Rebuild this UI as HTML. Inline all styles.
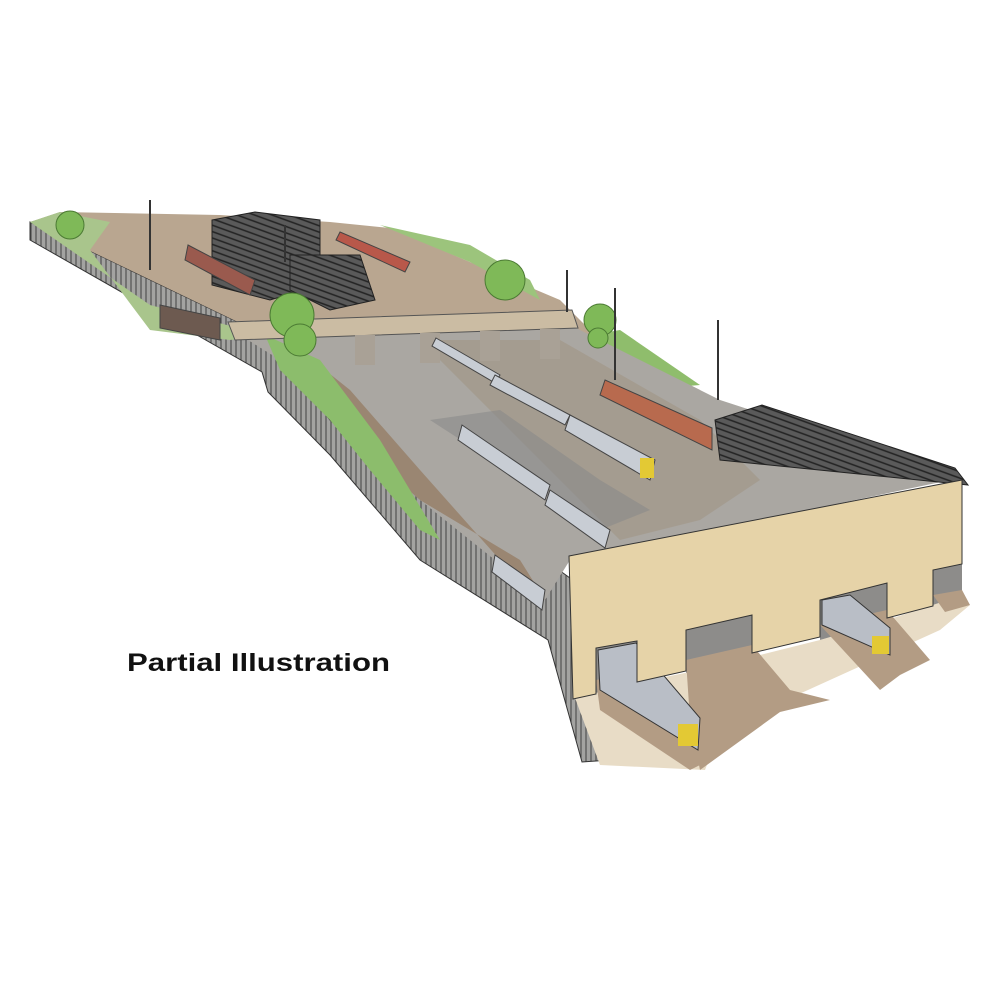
<!DOCTYPE html>
<html><head><meta charset="utf-8"><style>
html,body{margin:0;padding:0;background:#fff;}
svg{display:block}
</style></head><body>
<svg width="1000" height="1000" viewBox="0 0 1000 1000" xmlns="http://www.w3.org/2000/svg">
<defs>
<pattern id="vh" width="5" height="10" patternUnits="userSpaceOnUse">
<rect width="5" height="10" fill="#a3a3a1"/><line x1="1" y1="0" x2="1" y2="10" stroke="#4a4a4a" stroke-width="1.1"/>
</pattern>
<pattern id="rf" width="6" height="6" patternUnits="userSpaceOnUse" patternTransform="rotate(20)">
<rect width="6" height="6" fill="#5a5a5a"/><line x1="0" y1="1" x2="6" y2="1" stroke="#222" stroke-width="1.5"/>
</pattern>
</defs>
<!-- side wall -->
<polygon points="30,222 265,335 330,420 420,495 545,560 570,578 610,760 582,762 548,640 420,560 330,455 268,392 262,372 30,240" fill="url(#vh)" stroke="#333" stroke-width="1"/>
<!-- upper terrain -->
<polygon points="30,222 60,212 220,215 330,222 390,228 470,262 560,300 600,340 700,390 720,420 600,420 420,330 300,330 265,335" fill="#b9a690"/>
<polygon points="30,222 60,212 110,222 90,250 150,330 230,340 265,335 150,305" fill="#a9c58c"/>
<polygon points="380,225 470,262 540,300 530,280 470,245" fill="#9cc47c"/>
<polygon points="560,340 620,330 700,385 640,390" fill="#8fbd6c"/>
<!-- track area -->
<polygon points="240,335 560,320 720,400 960,478 570,560 545,600 420,500 340,430 280,360" fill="#aaa7a2"/>
<polygon points="300,350 340,430 420,500 520,560 545,600 500,560 420,470 350,390" fill="#9a8672"/>
<polygon points="420,340 560,340 700,420 760,480 700,520 620,540" fill="#a09484" opacity=".6"/>
<polygon points="430,420 500,410 600,480 650,510 600,530" fill="#8a8a8a" opacity=".6"/>
<!-- green embankment -->
<polygon points="265,335 320,360 380,440 440,540 420,530 370,470 330,420 280,370" fill="#8cbd6c"/>
<!-- bridge -->
<polygon points="228,322 572,310 578,328 235,340" fill="#cbbca3" stroke="#555"/>
<rect x="355" y="335" width="20" height="30" fill="#a9a196"/>
<rect x="420" y="333" width="20" height="30" fill="#a9a196"/>
<rect x="480" y="331" width="20" height="30" fill="#a9a196"/>
<rect x="540" y="329" width="20" height="30" fill="#a9a196"/>
<!-- sheds -->
<polygon points="212,220 255,212 320,220 320,285 270,300 212,285" fill="url(#rf)" stroke="#222"/>
<polygon points="290,255 360,255 375,300 330,310 290,290" fill="url(#rf)" stroke="#222"/>
<!-- roof right -->
<polygon points="715,420 762,405 955,468 968,485 720,460" fill="url(#rf)" stroke="#222"/>
<!-- trains -->
<g stroke="#444" stroke-width="1">
<polygon points="436,338 500,375 495,383 432,346" fill="#c8cdd4"/>
<polygon points="495,375 570,415 565,425 490,385" fill="#c8cdd4"/>
<polygon points="570,415 655,460 650,480 565,430" fill="#c8cdd4"/>
<polygon points="462,425 550,485 545,500 458,440" fill="#c8cdd4"/>
<polygon points="550,490 610,530 605,548 545,505" fill="#c8cdd4"/>
<polygon points="495,555 545,590 542,610 492,572" fill="#c8cdd4"/>
<polygon points="605,380 712,428 712,450 600,395" fill="#b86a4e"/>
<polygon points="340,232 410,262 405,272 336,240" fill="#b8584a"/>
<polygon points="160,305 220,318 220,340 160,328" fill="#6d5a50"/>
<polygon points="188,245 255,280 250,295 185,260" fill="#9a5a4e"/>
</g>
<rect x="640" y="458" width="14" height="20" fill="#e3c934"/>
<!-- opening interiors -->
<g fill="#8d8c8a">
<polygon points="596,648 637,641 637,690 596,700"/>
<polygon points="686,630 752,615 752,660 686,675"/>
<polygon points="820,600 887,583 887,625 820,640"/>
<polygon points="933,570 962,564 962,600 933,606"/>
</g>
<!-- floor below building -->
<polygon points="575,698 640,682 700,670 760,655 820,640 887,620 960,596 970,605 940,630 830,680 720,730 705,770 600,765" fill="#e8dcc6"/>
<!-- fanned tracks -->
<polygon points="686,660 752,645 790,690 830,700 780,712 700,770 690,720" fill="#b39c84"/>
<polygon points="820,625 887,610 930,660 900,675 880,690" fill="#b39c84"/>
<polygon points="933,595 962,590 970,605 945,612" fill="#b39c84"/>
<polygon points="596,680 637,672 700,720 710,760 690,770 600,710" fill="#b39c84"/>
<!-- trains in openings -->
<g stroke="#333" stroke-width="1">
<polygon points="598,650 636,643 700,718 698,750 600,690" fill="#b9bec6"/>
<polygon points="822,600 850,595 890,628 890,655 822,625" fill="#b9bec6"/>
</g>
<rect x="678" y="724" width="20" height="22" fill="#e3c934"/>
<rect x="872" y="636" width="17" height="18" fill="#e3c934"/>
<!-- front building -->
<polygon points="569,556 962,480 962,564 933,570 933,606 887,618 887,583 820,600 820,637 752,653 752,615 686,630 686,671 637,682 637,641 596,648 596,694 573,699" fill="#e6d3a8" stroke="#333"/>
<!-- trees -->
<g fill="#7fb958" stroke="#4b7a33">
<circle cx="70" cy="225" r="14"/><circle cx="292" cy="315" r="22"/><circle cx="300" cy="340" r="16"/>
<circle cx="505" cy="280" r="20"/><circle cx="600" cy="320" r="16"/><circle cx="598" cy="338" r="10"/>
</g>
<!-- poles -->
<g stroke="#333" stroke-width="2">
<line x1="150" y1="200" x2="150" y2="270"/><line x1="567" y1="270" x2="567" y2="312"/>
<line x1="615" y1="288" x2="615" y2="380"/><line x1="718" y1="320" x2="718" y2="400"/>
<line x1="285" y1="225" x2="285" y2="262"/>
</g>
<text x="127" y="671" font-family="'Liberation Sans',sans-serif" font-weight="bold" font-size="25" fill="#111" textLength="263" lengthAdjust="spacingAndGlyphs">Partial Illustration</text>
</svg>
</body></html>
